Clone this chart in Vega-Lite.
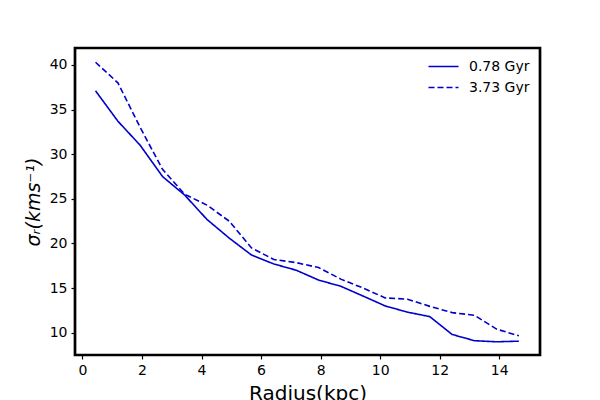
{
  "$schema": "https://vega.github.io/schema/vega-lite/v6.json",
  "autosize": {"type": "none"},
  "width": 465,
  "height": 307,
  "padding": {"left": 75, "top": 48, "right": 60, "bottom": 45},
  "background": "white",
  "config": {
    "font": "DejaVu Sans",
    "view": {"stroke": "black", "strokeWidth": 2.7},
    "axis": {
      "grid": false,
      "domain": false,
      "tickColor": "black",
      "tickSize": 4,
      "tickWidth": 1.2,
      "labelColor": "black",
      "labelFontSize": 14,
      "labelPadding": 4,
      "titleColor": "black",
      "titleFontWeight": "normal"
    }
  },
  "data": {
    "values": [
      {"r": 0.44, "sigma": 37.1, "series": "0.78 Gyr"},
      {"r": 1.19, "sigma": 33.7, "series": "0.78 Gyr"},
      {"r": 1.94, "sigma": 31.0, "series": "0.78 Gyr"},
      {"r": 2.69, "sigma": 27.5, "series": "0.78 Gyr"},
      {"r": 3.44, "sigma": 25.4, "series": "0.78 Gyr"},
      {"r": 4.18, "sigma": 22.7, "series": "0.78 Gyr"},
      {"r": 4.93, "sigma": 20.6, "series": "0.78 Gyr"},
      {"r": 5.68, "sigma": 18.7, "series": "0.78 Gyr"},
      {"r": 6.43, "sigma": 17.7, "series": "0.78 Gyr"},
      {"r": 7.18, "sigma": 17.0, "series": "0.78 Gyr"},
      {"r": 7.93, "sigma": 15.9, "series": "0.78 Gyr"},
      {"r": 8.68, "sigma": 15.2, "series": "0.78 Gyr"},
      {"r": 9.43, "sigma": 14.1, "series": "0.78 Gyr"},
      {"r": 10.17, "sigma": 13.0, "series": "0.78 Gyr"},
      {"r": 10.92, "sigma": 12.3, "series": "0.78 Gyr"},
      {"r": 11.67, "sigma": 11.8, "series": "0.78 Gyr"},
      {"r": 12.42, "sigma": 9.8, "series": "0.78 Gyr"},
      {"r": 13.17, "sigma": 9.1, "series": "0.78 Gyr"},
      {"r": 13.91, "sigma": 8.98, "series": "0.78 Gyr"},
      {"r": 14.66, "sigma": 9.05, "series": "0.78 Gyr"},
      {"r": 0.44, "sigma": 40.3, "series": "3.73 Gyr"},
      {"r": 1.19, "sigma": 38.0, "series": "3.73 Gyr"},
      {"r": 1.94, "sigma": 33.0, "series": "3.73 Gyr"},
      {"r": 2.69, "sigma": 28.3, "series": "3.73 Gyr"},
      {"r": 3.44, "sigma": 25.5, "series": "3.73 Gyr"},
      {"r": 4.18, "sigma": 24.3, "series": "3.73 Gyr"},
      {"r": 4.93, "sigma": 22.5, "series": "3.73 Gyr"},
      {"r": 5.68, "sigma": 19.5, "series": "3.73 Gyr"},
      {"r": 6.43, "sigma": 18.2, "series": "3.73 Gyr"},
      {"r": 7.18, "sigma": 17.85, "series": "3.73 Gyr"},
      {"r": 7.93, "sigma": 17.3, "series": "3.73 Gyr"},
      {"r": 8.68, "sigma": 16.0, "series": "3.73 Gyr"},
      {"r": 9.43, "sigma": 15.0, "series": "3.73 Gyr"},
      {"r": 10.17, "sigma": 13.9, "series": "3.73 Gyr"},
      {"r": 10.92, "sigma": 13.75, "series": "3.73 Gyr"},
      {"r": 11.67, "sigma": 12.95, "series": "3.73 Gyr"},
      {"r": 12.42, "sigma": 12.25, "series": "3.73 Gyr"},
      {"r": 13.17, "sigma": 11.95, "series": "3.73 Gyr"},
      {"r": 13.91, "sigma": 10.4, "series": "3.73 Gyr"},
      {"r": 14.66, "sigma": 9.65, "series": "3.73 Gyr"}
    ]
  },
  "mark": {"type": "line", "strokeWidth": 1.6},
  "encoding": {
    "x": {
      "field": "r",
      "type": "quantitative",
      "title": "Radius(kpc)",
      "scale": {"domain": [-0.25, 15.37], "nice": false, "zero": false},
      "axis": {"values": [0, 2, 4, 6, 8, 10, 12, 14], "titleFontSize": 20, "titlePadding": 6}
    },
    "y": {
      "field": "sigma",
      "type": "quantitative",
      "title": "σᵣ(kms⁻¹)",
      "scale": {"domain": [7.5, 41.9], "nice": false, "zero": false},
      "axis": {"values": [10, 15, 20, 25, 30, 35, 40], "titleFontSize": 19, "titleFontStyle": "italic", "titlePadding": 6}
    },
    "color": {
      "field": "series",
      "type": "nominal",
      "scale": {"range": ["#0000cd", "#0000cd"]},
      "legend": {
        "title": null,
        "orient": "top-right",
        "offset": 10,
        "symbolType": "M-2,0H2",
        "symbolSize": 225,
        "symbolStrokeWidth": 1.6,
        "labelFontSize": 14,
        "labelColor": "black",
        "labelOffset": 17,
        "rowPadding": 5
      }
    },
    "strokeDash": {
      "field": "series",
      "type": "nominal",
      "scale": {"range": [[1, 0], [6, 3]]},
      "legend": {
        "title": null,
        "orient": "top-right",
        "offset": 10,
        "symbolType": "M-2,0H2",
        "symbolSize": 225,
        "symbolStrokeWidth": 1.6,
        "labelFontSize": 14,
        "labelColor": "black",
        "labelOffset": 17,
        "rowPadding": 5
      }
    }
  }
}
